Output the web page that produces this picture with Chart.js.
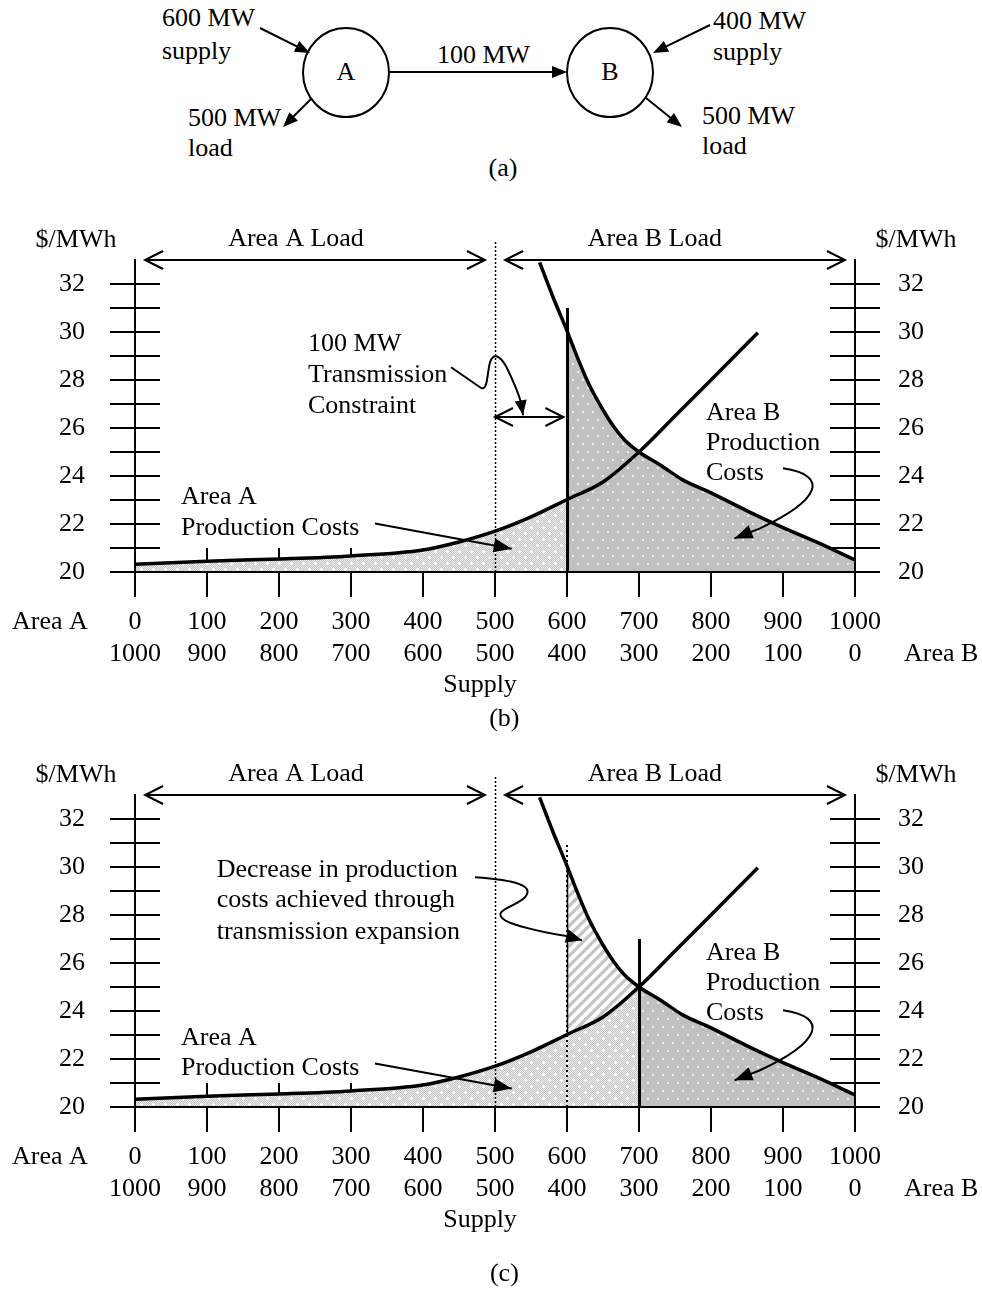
<!DOCTYPE html>
<html><head><meta charset="utf-8">
<script src="https://cdn.jsdelivr.net/npm/chart.js@4.4.1/dist/chart.umd.min.js"></script>
<style>
html,body{margin:0;padding:0;background:#fff;width:982px;height:1290px;overflow:hidden}
#wrap{position:relative;width:982px;height:1290px;background:#fff}
svg,canvas{position:absolute;left:0}
svg text{font-family:"Liberation Serif","Times New Roman",serif;font-size:26px;fill:#000}
</style></head><body>
<div id="wrap">
<svg id="diag" width="982" height="200" style="top:0"></svg>
<canvas id="chartB" width="982" height="535" style="top:200px"></canvas>
<canvas id="chartC" width="982" height="555" style="top:735px"></canvas>
</div>
<script>
// ---------------- DATA ----------------
// Area A supply (production cost) curve: MW supplied by Area A -> $/MWh
const supplyA_MW = [0, 100, 200, 300, 400, 450, 500, 550, 600, 650, 700, 750, 800, 865];
const priceA     = [20.32, 20.45, 20.54, 20.67, 20.92, 21.25, 21.7, 22.3, 23.02, 23.75, 25.0, 26.5, 28.0, 29.97];
// Area B supply curve, on the same axis (Area B supply = 1000 - x)
const supplyB_MW = [562, 580, 600, 615, 630, 650, 665, 680, 700, 730, 760, 800, 850, 900, 950, 1000];
const priceB     = [32.9, 31.5, 30.05, 28.9, 27.85, 26.75, 26.05, 25.5, 25.0, 24.45, 23.85, 23.3, 22.55, 21.85, 21.2, 20.5];
// axes
const xTickMW = [0, 100, 200, 300, 400, 500, 600, 700, 800, 900, 1000];
const totalMW = 1000;
const yLabelValues = [20, 22, 24, 26, 28, 30, 32];
const yMin = 20, yMax = 33;
// scenario values
const constraintMW = 600;   // (b) 100 MW transmission limit
const expandedMW = 700;     // (c) after expansion
const areaLoadSplitMW = 500;

const FONT = '"Liberation Serif","Times New Roman",serif';

// ---------------- DIAGRAM (a) ----------------
function svgArrow(x0,y0,x1,y1,len=15,hw=6){
  const dx=x1-x0, dy=y1-y0, d=Math.hypot(dx,dy), ux=dx/d, uy=dy/d;
  const bx=x1-ux*len, by=y1-uy*len;
  return `<line x1="${x0}" y1="${y0}" x2="${bx+ux*3}" y2="${by+uy*3}" stroke="#000" stroke-width="2"/>`+
    `<polygon points="${x1},${y1} ${bx-uy*hw},${by+ux*hw} ${bx+uy*hw},${by-ux*hw}" fill="#000"/>`;
}
document.getElementById('diag').innerHTML =
  `<text x="162" y="26">600 MW</text><text x="162" y="59">supply</text>`+
  `<ellipse cx="346" cy="72.5" rx="43" ry="44.5" fill="none" stroke="#000" stroke-width="2"/>`+
  `<text x="346" y="80" text-anchor="middle">A</text>`+
  `<text x="188" y="126">500 MW</text><text x="188" y="156">load</text>`+
  `<text x="437" y="63">100 MW</text>`+
  `<ellipse cx="610" cy="72.5" rx="43" ry="44.5" fill="none" stroke="#000" stroke-width="2"/>`+
  `<text x="610" y="80" text-anchor="middle">B</text>`+
  `<text x="713" y="29">400 MW</text><text x="713" y="60">supply</text>`+
  `<text x="702" y="124">500 MW</text><text x="702" y="154">load</text>`+
  `<text x="503" y="176" text-anchor="middle">(a)</text>`+
  svgArrow(260,28,310,53)+svgArrow(312,98,283,127)+svgArrow(389,72,567,72)+
  svgArrow(710,25,653,53)+svgArrow(646,98,682,127);

// ---------------- PATTERNS ----------------
function patLight(ctx){
  const c=document.createElement('canvas'); c.width=12; c.height=12;
  const g=c.getContext('2d'); const img=g.createImageData(12,12);
  for(let j=0;j<12;j++)for(let i=0;i<12;i++){const k=(j*12+i)*4;const v=((i+j)%2)?196:236;
    img.data[k]=img.data[k+1]=img.data[k+2]=v;img.data[k+3]=255;}
  g.putImageData(img,0,0); g.fillStyle='#fafafa';
  [[3,3],[9,9]].forEach(([x,y])=>{g.fillRect(x-1,y,3,1);g.fillRect(x,y-1,1,3);});
  return ctx.createPattern(c,'repeat');
}
function patDark(ctx){
  const c=document.createElement('canvas'); c.width=10; c.height=16;
  const g=c.getContext('2d'); g.fillStyle='#c0c0c0'; g.fillRect(0,0,10,16);
  g.fillStyle='#ececec'; g.fillRect(2,3,2,2); g.fillRect(7,11,2,2);
  return ctx.createPattern(c,'repeat');
}
function patHatch(ctx){
  const c=document.createElement('canvas'); c.width=10; c.height=10;
  const g=c.getContext('2d'); g.fillStyle='#fff'; g.fillRect(0,0,10,10);
  g.strokeStyle='#c4c4c4'; g.lineWidth=3.2; g.beginPath();
  g.moveTo(-5,5);g.lineTo(5,-5);g.moveTo(0,10);g.lineTo(10,0);g.moveTo(5,15);g.lineTo(15,5);g.stroke();
  return ctx.createPattern(c,'repeat');
}

// ---------------- HELPERS ----------------
function pts(xArr,yArr,lo,hi){return xArr.map((x,i)=>({x,y:yArr[i]})).filter(p=>p.x>=lo&&p.x<=hi);}
function valueAt(xArr,yArr,x){for(let i=0;i<xArr.length-1;i++){if(x>=xArr[i]&&x<=xArr[i+1]){const t=(x-xArr[i])/(xArr[i+1]-xArr[i]);return yArr[i]+t*(yArr[i+1]-yArr[i]);}}return null;}

function drawHead(ctx,x0,y0,x1,y1,len,hw){
  const dx=x1-x0,dy=y1-y0,d=Math.hypot(dx,dy),ux=dx/d,uy=dy/d;const bx=x1-ux*len,by=y1-uy*len;
  ctx.beginPath();ctx.moveTo(x1,y1);ctx.lineTo(bx-uy*hw,by+ux*hw);ctx.lineTo(bx+uy*hw,by-ux*hw);ctx.closePath();ctx.fill();
}

const decoPlugin = {
  id:'deco',
  beforeDraw(chart){
    const ctx=chart.ctx, xs=chart.scales.x, ys=chart.scales.y, a=chart.chartArea;
    ctx.save(); ctx.strokeStyle='#000'; ctx.lineWidth=2; ctx.beginPath();
    xs.ticks.forEach(t=>{const p=Math.round(xs.getPixelForValue(t.value));ctx.moveTo(p,a.bottom);ctx.lineTo(p,a.bottom-24);});
    ys.ticks.forEach(t=>{if(t.value>yLabelValues[yLabelValues.length-1])return;const p=Math.round(ys.getPixelForValue(t.value));
      ctx.moveTo(a.left,p);ctx.lineTo(a.left+25,p);ctx.moveTo(a.right,p);ctx.lineTo(a.right-25,p);});
    ctx.stroke(); ctx.restore();
  },
  afterDraw(chart){
    const ann=chart.options.plugins.deco.items;
    const ctx=chart.ctx, xs=chart.scales.x, ys=chart.scales.y;
    const X=v=>xs.getPixelForValue(v), Y=v=>ys.getPixelForValue(v);
    ctx.save(); ctx.fillStyle='#000'; ctx.strokeStyle='#000'; ctx.lineJoin='miter';
    ann.forEach(o=>{
      if(o.type==='text'){
        ctx.font='26px '+FONT; ctx.textAlign=o.align||'left'; ctx.textBaseline=o.baseline||'alphabetic';
        o.lines.forEach((t,i)=>ctx.fillText(t,X(o.x),Y(o.y[i])));
      } else if(o.type==='vline'){
        ctx.lineWidth=o.w; ctx.setLineDash(o.dash||[]); ctx.beginPath();
        const px=Math.round(X(o.x))+(o.w%2?0.5:0);
        ctx.moveTo(px,Y(o.y0)); ctx.lineTo(px,Y(o.y1)); ctx.stroke(); ctx.setLineDash([]);
      } else if(o.type==='dbl'){
        const x0=X(o.x0),x1=X(o.x1),y=Math.round(Y(o.y));
        ctx.lineWidth=2; ctx.beginPath(); ctx.moveTo(x0,y); ctx.lineTo(x1,y);
        ctx.moveTo(x0+18,y-9); ctx.lineTo(x0,y); ctx.lineTo(x0+18,y+9);
        ctx.moveTo(x1-18,y-9); ctx.lineTo(x1,y); ctx.lineTo(x1-18,y+9); ctx.stroke();
      } else if(o.type==='path'){
        ctx.lineWidth=2; ctx.beginPath(); let lx=0,ly=0;
        o.d.forEach(s=>{
          if(s[0]==='M'){lx=X(s[1]);ly=Y(s[2]);ctx.moveTo(lx,ly);}
          else if(s[0]==='L'){lx=X(s[1]);ly=Y(s[2]);ctx.lineTo(lx,ly);}
          else {ctx.bezierCurveTo(X(s[1]),Y(s[2]),X(s[3]),Y(s[4]),X(s[5]),Y(s[6]));lx=X(s[5]);ly=Y(s[6]);}
        });
        const tx=X(o.tip[0]),ty=Y(o.tip[1]);
        ctx.lineTo(tx,ty); ctx.stroke(); drawHead(ctx,lx,ly,tx,ty,o.hl||16,o.hw||7);
      }
    });
    ctx.restore();
  }
};

function commonAnn(panelLabel, shiftDown){
  return [
    {type:'vline',x:areaLoadSplitMW,y0:yMin,y1:33.75,w:1.5,dash:[2,2]},
    {type:'dbl',x0:14,x1:486,y:33},
    {type:'dbl',x0:514,x1:986,y:33},
    {type:'text',lines:['$/MWh'],x:-81.9,y:[33.53],align:'center'},
    {type:'text',lines:['$/MWh'],x:1084.7,y:[33.53],align:'center'},
    {type:'text',lines:['Area A Load'],x:223.6,y:[33.57],align:'center'},
    {type:'text',lines:['Area B Load'],x:722,y:[33.57],align:'center'},
    {type:'text',lines:['Area A'],x:-170.8,y:[17.89],baseline:'middle'},
    {type:'text',lines:['Area B'],x:1068,y:[16.59],baseline:'middle'},
    {type:'text',lines:['Supply'],x:479.2,y:[15.0],align:'center'},
    {type:'text',lines:[panelLabel.t],x:513,y:[panelLabel.y],align:'center'}
  ];
}

function makeChart(id, datasetsFn, ann){
  const cv=document.getElementById(id); const ctx=cv.getContext('2d'); const H=cv.height;
  const base={pointRadius:0,pointHoverRadius:0,cubicInterpolationMode:'monotone',borderColor:'#000'};
  const ds=datasetsFn(ctx).map(d=>Object.assign({},base,d));
  const tickFont={family:'Liberation Serif',size:26};
  const yAxis=(pos,pad,w)=>({
    type:'linear',position:pos,min:yMin,max:yMax,display:true,
    ticks:{stepSize:1,autoSkip:false,padding:pad,color:'#000',font:tickFont,
      callback:v=>yLabelValues.includes(v)?String(v):''},
    grid:{drawOnChartArea:false,drawTicks:true,tickLength:25,lineWidth:2,
      color:c=>(c.tick&&c.tick.value>yLabelValues[yLabelValues.length-1])?'rgba(0,0,0,0)':'#000'},
    border:{display:true,color:'#000',width:2,z:1},
    afterFit:s=>{s.width=w;}
  });
  return new Chart(ctx,{
    type:'line',
    data:{datasets:ds},
    options:{
      responsive:false,animation:false,devicePixelRatio:1,
      layout:{padding:{top:60,left:0,right:0,bottom:0}},
      plugins:{legend:{display:false},tooltip:{enabled:false},deco:{items:ann}},
      scales:{
        x:{type:'linear',min:xTickMW[0],max:xTickMW[xTickMW.length-1],
          afterBuildTicks:s=>{s.ticks=xTickMW.map(v=>({value:v}));},
          ticks:{autoSkip:false,maxRotation:0,padding:10,color:'#000',font:tickFont,
            callback:v=>[String(v),String(totalMW-v)]},
          grid:{drawOnChartArea:false,drawTicks:true,tickLength:25,lineWidth:2,color:'#000'},
          border:{display:true,color:'#000',width:2,z:1},
          afterFit:s=>{s.height=H-372;}},
        y:yAxis('left',25,135),
        y2:yAxis('right',18,127)
      }
    },
    plugins:[decoPlugin]
  });
}

// ---------------- CHART (b) ----------------
makeChart('chartB', ctx=>[
  {data:pts(supplyA_MW,priceA,0,totalMW),borderWidth:3.5,fill:false},
  {data:pts(supplyB_MW,priceB,0,totalMW),borderWidth:3.5,fill:false},
  {data:pts(supplyA_MW,priceA,0,constraintMW),borderWidth:0,backgroundColor:patLight(ctx),fill:'start'},
  {data:pts(supplyB_MW,priceB,constraintMW,totalMW),borderWidth:0,backgroundColor:patDark(ctx),fill:'start'}
], commonAnn({t:'(b)',y:13.57}).concat([
  {type:'vline',x:constraintMW,y0:yMin,y1:31,w:3},
  {type:'dbl',x0:areaLoadSplitMW,x1:595,y:26.45},
  {type:'text',lines:['100 MW','Transmission','Constraint'],x:240.3,y:[29.2,27.9,26.61]},
  {type:'text',lines:['Area A','Production Costs'],x:63.9,y:[22.84,21.53]},
  {type:'text',lines:['Area B','Production','Costs'],x:793.1,y:[26.35,25.07,23.82]},
  {type:'path',d:[['M',438.9,28.53],['L',479.2,27.70],['C',490.3,27.45,488.9,28.32,493.1,28.74],
    ['C',497.2,29.15,506.9,29.03,515.3,28.57],['C',523.6,28.07,531.9,27.49,536.1,27.07]],tip:[538.9,26.53],hl:15,hw:6},
  {type:'path',d:[['M',333.3,22.02]],tip:[523.2,20.97],hl:18,hw:7},
  {type:'path',d:[['M',900,24.32],['C',965.3,24.03,951.4,22.99,868.1,21.82]],tip:[832.6,21.40],hl:18,hw:7}
]));

// ---------------- CHART (c) ----------------
makeChart('chartC', ctx=>[
  {data:pts(supplyA_MW,priceA,0,totalMW),borderWidth:3.5,fill:false},
  {data:pts(supplyB_MW,priceB,0,totalMW),borderWidth:3.5,fill:false},
  {data:pts(supplyA_MW,priceA,0,expandedMW),borderWidth:0,backgroundColor:patLight(ctx),fill:'start'},
  {data:pts(supplyB_MW,priceB,expandedMW,totalMW),borderWidth:0,backgroundColor:patDark(ctx),fill:'start'},
  {data:pts(supplyB_MW,priceB,constraintMW,expandedMW),borderWidth:0,backgroundColor:patHatch(ctx),fill:'start'}
], commonAnn({t:'(c)',y:12.74}).concat([
  {type:'vline',x:constraintMW,y0:yMin,y1:31,w:2,dash:[2,3]},
  {type:'vline',x:constraintMW,y0:valueAt(supplyA_MW,priceA,constraintMW),y1:valueAt(supplyB_MW,priceB,constraintMW),w:1.5},
  {type:'vline',x:expandedMW,y0:yMin,y1:27,w:3},
  {type:'text',lines:['Decrease in production','costs achieved through','transmission expansion'],x:113.5,y:[29.58,28.32,27.02]},
  {type:'text',lines:['Area A','Production Costs'],x:63.9,y:[22.57,21.32]},
  {type:'text',lines:['Area B','Production','Costs'],x:793.1,y:[26.11,24.86,23.61]},
  {type:'path',d:[['M',472.2,29.57],['C',527.8,29.45,555.6,29.24,541.7,28.74],
    ['C',527.8,28.32,493.1,28.20,513.9,27.78],['C',534.7,27.45,576.4,27.24,601.4,27.11]],tip:[620.8,26.95],hl:16,hw:7},
  {type:'path',d:[['M',333.3,21.81]],tip:[523.2,20.77],hl:18,hw:7},
  {type:'path',d:[['M',900,24.03],['C',965.3,23.74,951.4,22.70,868.1,21.53]],tip:[832.6,21.11],hl:18,hw:7}
]));
</script>
</body></html>
